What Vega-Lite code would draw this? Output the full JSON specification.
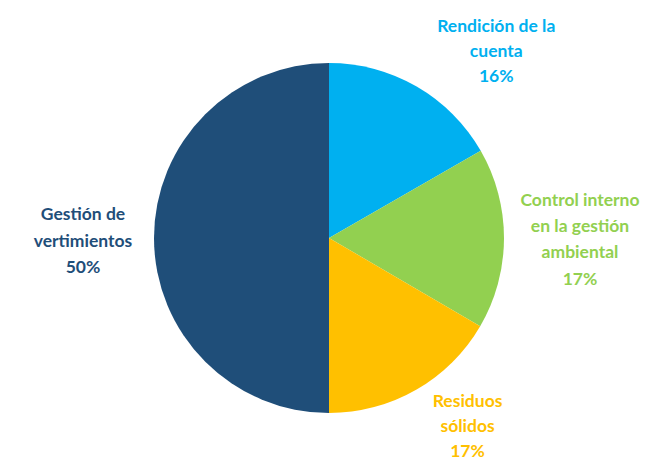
{
  "$schema": "https://vega.github.io/schema/vega-lite/v6.json",
  "width": 654,
  "height": 446,
  "autosize": "none",
  "padding": {"left": 2, "right": 0, "top": 15, "bottom": 0},
  "background": "white",
  "view": {"stroke": null},
  "data": {
    "values": [
      {"name": "Rendición de la cuenta", "order": 1, "value": 16.7, "label": "Rendición de la\ncuenta\n16%"},
      {"name": "Control interno en la gestión ambiental", "order": 2, "value": 16.7, "label": "Control interno\nen la gestión\nambiental\n17%"},
      {"name": "Residuos sólidos", "order": 3, "value": 16.6, "label": "Residuos\nsólidos\n17%"},
      {"name": "Gestión de vertimientos", "order": 4, "value": 50, "label": "Gestión de\nvertimientos\n50%"}
    ]
  },
  "encoding": {
    "theta": {"field": "value", "type": "quantitative", "stack": true},
    "order": {"field": "order", "type": "quantitative", "sort": "ascending"},
    "color": {
      "field": "name",
      "type": "nominal",
      "legend": null,
      "scale": {
        "domain": ["Rendición de la cuenta", "Control interno en la gestión ambiental", "Residuos sólidos", "Gestión de vertimientos"],
        "range": ["#00B0F0", "#92D050", "#FFC000", "#1F4E79"]
      }
    }
  },
  "layer": [
    {"mark": {"type": "arc", "outerRadius": 175, "stroke": null}},
    {
      "mark": {"type": "text", "radius": 250, "dx": 42, "dy": 5.5, "font": "Lato", "fontWeight": "bold", "fontSize": 17.5, "lineBreak": "\n", "lineHeight": 25, "align": "center", "baseline": "middle"},
      "encoding": {
        "text": {"condition": {"test": "datum.order == 1", "field": "label"}, "value": ""}
      }
    },
    {
      "mark": {"type": "text", "radius": 250, "dx": 1, "dy": -38, "font": "Lato", "fontWeight": "bold", "fontSize": 17.5, "lineBreak": "\n", "lineHeight": 26.3, "align": "center", "baseline": "middle"},
      "encoding": {
        "text": {"condition": {"test": "datum.order == 2", "field": "label"}, "value": ""}
      }
    },
    {
      "mark": {"type": "text", "radius": 250, "dx": 14, "dy": -52.5, "font": "Lato", "fontWeight": "bold", "fontSize": 17.5, "lineBreak": "\n", "lineHeight": 25, "align": "center", "baseline": "middle"},
      "encoding": {
        "text": {"condition": {"test": "datum.order == 3", "field": "label"}, "value": ""}
      }
    },
    {
      "mark": {"type": "text", "radius": 250, "dx": 4, "dy": -23, "font": "Lato", "fontWeight": "bold", "fontSize": 17.5, "lineBreak": "\n", "lineHeight": 26.5, "align": "center", "baseline": "middle"},
      "encoding": {
        "text": {"condition": {"test": "datum.order == 4", "field": "label"}, "value": ""}
      }
    }
  ]
}
